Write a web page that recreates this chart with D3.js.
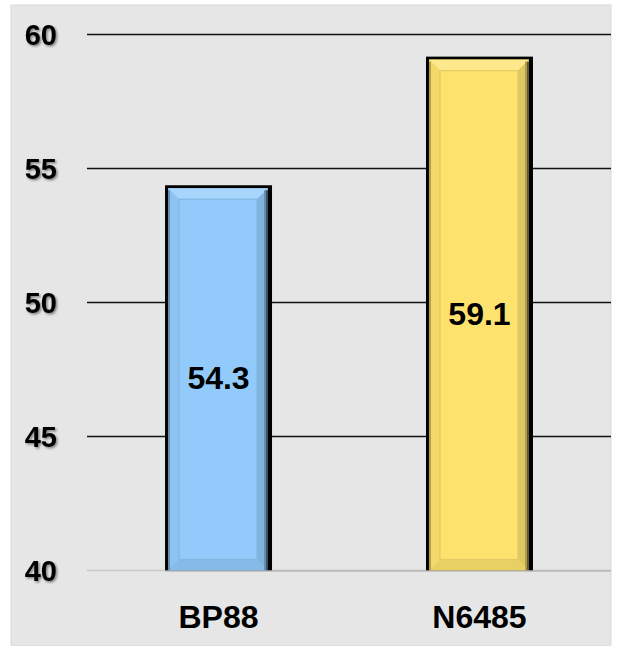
<!DOCTYPE html>
<html><head><meta charset="utf-8">
<script src="https://cdn.jsdelivr.net/npm/d3@7"></script>
<style>html,body{margin:0;padding:0;background:#fff;}svg{display:block;}</style>
</head><body>
<svg id="chart" width="619" height="646"></svg>
<script>
const categories = ["BP88", "N6485"];
const values = [54.3, 59.1];
const barColors = ["#92cbfb", "#fde26e"];
const tickValues = [40, 45, 50, 55, 60];

const svg = d3.select("#chart");
const defs = svg.append("defs");
const f = defs.append("filter").attr("id","sh").attr("x","-20%").attr("y","-20%").attr("width","150%").attr("height","150%");
f.append("feDropShadow").attr("dx",1.5).attr("dy",1.5).attr("stdDeviation",1.2).attr("flood-color","#000").attr("flood-opacity",0.45);

svg.append("rect").attr("x",11).attr("y",5).attr("width",600).attr("height",641).attr("fill","#e6e6e6").attr("stroke","#d9d9d9");

const y = d3.scaleLinear().domain([40,60]).range([570.5,34.5]);
const x = d3.scaleBand().domain(categories).range([87,611]).paddingInner(0.59).paddingOuter(0.299);

// gridlines
svg.append("g").selectAll("line").data(tickValues).join("line")
  .attr("x1",87).attr("x2",611)
  .attr("y1",d=>y(d)).attr("y2",d=>y(d))
  .attr("stroke",d=>d===40?"#c8c8c8":"#111").attr("stroke-width",1.5);

// tick labels
svg.append("g").selectAll("text").data(tickValues).join("text")
  .attr("x",57).attr("y",d=>y(d)).attr("dy","0.36em")
  .attr("text-anchor","end").attr("font-family","Liberation Sans, Arial, sans-serif")
  .attr("font-weight","bold").attr("font-size",29).attr("fill","#000")
  .attr("filter","url(#sh)").text(d=>d);

function shade(c,k){ return k>0 ? d3.interpolateRgb(c,"#fff")(k) : d3.interpolateRgb(c,"#000")(-k); }

const bars = svg.append("g").selectAll("g").data(categories.map((c,i)=>({c,v:values[i],col:barColors[i]}))).join("g");
bars.each(function(d){
  const g = d3.select(this);
  const x0 = x(d.c), w = x.bandwidth();
  const y0 = y(d.v) - 2, y1 = y(40);
  const h = y1 - y0;
  g.append("rect").attr("x",x0).attr("y",y0).attr("width",w).attr("height",h).attr("fill","#000");
  const bl=3, bt=3, br=4;
  const ix0=x0+bl, iy0=y0+bt, ix1=x0+w-br, iy1=y1;
  const bv=11;
  g.append("rect").attr("x",ix0).attr("y",iy0).attr("width",ix1-ix0).attr("height",iy1-iy0).attr("fill",d.col);
  g.append("polygon").attr("points",[[ix0,iy0],[ix1,iy0],[ix1-bv,iy0+bv],[ix0+bv,iy0+bv]].join(" ")).attr("fill",shade(d.col,0.2));
  g.append("polygon").attr("points",[[ix0,iy0],[ix0+bv,iy0+bv],[ix0+bv,iy1-bv],[ix0,iy1]].join(" ")).attr("fill",shade(d.col,-0.04));
  g.append("polygon").attr("points",[[ix1,iy0],[ix1-bv,iy0+bv],[ix1-bv,iy1-bv],[ix1,iy1]].join(" ")).attr("fill",shade(d.col,-0.12));
  g.append("polygon").attr("points",[[ix0,iy1],[ix0+bv,iy1-bv],[ix1-bv,iy1-bv],[ix1,iy1]].join(" ")).attr("fill",shade(d.col,-0.08));
  g.append("rect").attr("x",ix0+bv).attr("y",iy0+bv).attr("width",ix1-ix0-2*bv).attr("height",iy1-iy0-2*bv)
    .attr("fill",d.col).attr("stroke",shade(d.col,-0.1)).attr("stroke-width",1.2);
  g.append("rect").attr("x",ix1-4).attr("y",iy0+2).attr("width",2).attr("height",iy1-iy0-2).attr("fill",shade(d.col,-0.3));
  g.append("rect").attr("x",ix1-2).attr("y",iy0+2).attr("width",2).attr("height",iy1-iy0-2).attr("fill",shade(d.col,-0.6));
  g.append("rect").attr("x",ix0).attr("y",iy0+2).attr("width",2).attr("height",iy1-iy0-2).attr("fill",shade(d.col,-0.3));
  g.append("text").attr("x",x0+w/2).attr("y",(y0+y1)/2).attr("dy","0.36em")
    .attr("text-anchor","middle").attr("font-family","Liberation Sans, Arial, sans-serif")
    .attr("font-weight","bold").attr("font-size",32).attr("fill","#000").text(d.v.toFixed(1));
});

svg.append("line").attr("x1",x(categories[0])).attr("x2",611).attr("y1",y(40)+0.5).attr("y2",y(40)+0.5).attr("stroke","#aaa").attr("stroke-width",1);

svg.append("g").selectAll("text").data(categories).join("text")
  .attr("x",d=>x(d)+x.bandwidth()/2).attr("y",628)
  .attr("text-anchor","middle").attr("font-family","Liberation Sans, Arial, sans-serif")
  .attr("font-weight","bold").attr("font-size",32).attr("fill","#000").text(d=>d);
</script>
</body></html>
